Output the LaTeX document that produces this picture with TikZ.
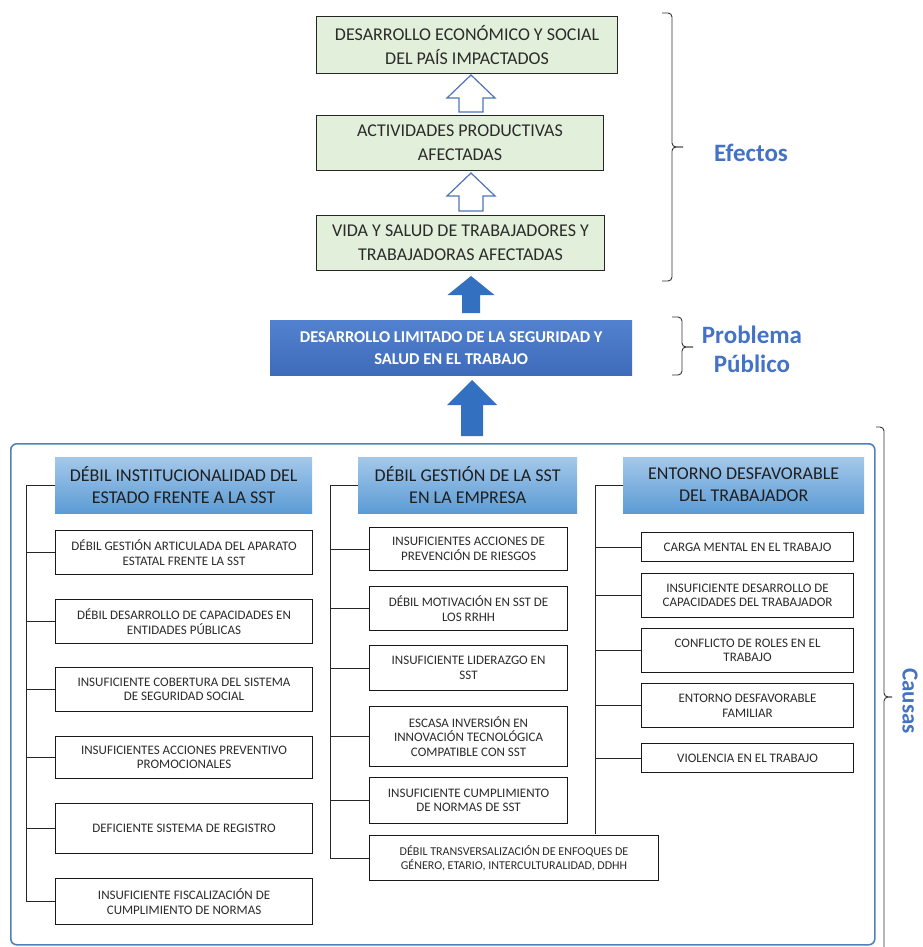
\documentclass[tikz,border=0pt]{standalone}
\usepackage{fontspec}
\setmainfont{Carlito}
\usetikzlibrary{calc}
\definecolor{greenfill}{HTML}{E2EFDA}
\definecolor{hdrtop}{HTML}{A4C8EA}
\definecolor{hdrbot}{HTML}{5B9BD5}
\definecolor{probtop}{HTML}{5282CF}
\definecolor{probbot}{HTML}{3E6BBA}
\definecolor{labelblue}{HTML}{4472C4}
\definecolor{framecol}{HTML}{4F81BD}
\definecolor{solidblue}{HTML}{3370BF}
\definecolor{hollowblue}{HTML}{4F74B5}
\definecolor{boxtext}{HTML}{2B2B2B}
\newcommand{\placebox}[7]{\node[#2, anchor=north west, minimum width={#5-#3}, minimum height={#6-#4}] (#1) at (#3,#4) {#7};}
\newcommand{\upblock}[7]{\draw[#1] (#2-#5,#3) -- (#2-#5,#4+#7) -- (#2-#6,#4+#7) -- (#2,#4) -- (#2+#6,#4+#7) -- (#2+#5,#4+#7) -- (#2+#5,#3) -- cycle;}
\begin{document}
\begin{tikzpicture}[x=1pt,y=-1pt,
  effbox/.style={draw=black!85, line width=1.1pt, fill=greenfill, align=center, inner sep=0pt,
    font=\fontsize{18}{24}\selectfont, text=boxtext},
  probbox/.style={top color=probtop, bottom color=probbot, draw=none, align=center, inner sep=0pt,
    font=\fontsize{16.5}{22}\selectfont\bfseries, text=white},
  hdr/.style={top color=hdrtop, bottom color=hdrbot, draw=none, align=center, inner sep=0pt,
    font=\fontsize{18}{22}\selectfont, text=black!88},
  cbox/.style={draw=black!90, line width=1.1pt, fill=white, align=center, inner sep=0pt,
    font=\fontsize{13}{14.5}\selectfont, text=boxtext},
  widebox/.style={cbox, font=\fontsize{12}{14.5}\selectfont},
  framebox/.style={draw=framecol, line width=1.6pt, rounded corners=6pt},
  lnk/.style={draw=black!85, line width=0.8pt},
  bracestyle/.style={draw=black!80, line width=0.9pt, rounded corners=4pt},
  lbl/.style={font=\fontsize{25}{29}\selectfont\bfseries, text=labelblue, align=center},
  hollow/.style={draw=hollowblue, line width=1.2pt, fill=white},
  solid/.style={draw=none, fill=solidblue}]
\useasboundingbox (0,0) rectangle (922,947);

% effects
\placebox{e1}{effbox}{316}{16}{617}{73}{DESARROLLO ECONÓMICO Y SOCIAL\\DEL PAÍS IMPACTADOS}
\placebox{e2}{effbox}{316}{115}{603}{170}{ACTIVIDADES PRODUCTIVAS\\AFECTADAS}
\placebox{e3}{effbox}{316}{215}{604}{270}{VIDA Y SALUD DE TRABAJADORES Y\\TRABAJADORAS AFECTADAS}
\upblock{hollow}{471}{112}{75}{12}{24}{23}
\upblock{hollow}{471}{211}{173}{12}{24}{23}

% problem
\placebox{pb}{probbox}{270}{320}{632}{375}{DESARROLLO LIMITADO DE LA SEGURIDAD Y\\SALUD EN EL TRABAJO}
\upblock{solid}{471}{313}{276}{9}{23.5}{19}
\upblock{solid}{472}{436}{380}{11}{25}{25}

% braces and labels
\draw[bracestyle] (662,13) -- (672,13) -- (672,147) -- (683,147);
\draw[bracestyle] (683,147) -- (672,147) -- (672,281) -- (662,281);
\node[lbl] (lefe) at (751,153) {Efectos};
\draw[bracestyle] (672,317) -- (682,317) -- (682,347) -- (693,347);
\draw[bracestyle] (693,347) -- (682,347) -- (682,375) -- (672,375);
\node[lbl] (lprob) at (752,349) {Problema\\Público};
\draw[bracestyle] (876,427) -- (884,427) -- (884,697) -- (892,697);
\draw[bracestyle] (892,697) -- (884,697) -- (884,990) -- (876,990);
\node[lbl, rotate=-90, font=\fontsize{23}{27}\selectfont\bfseries] (lcau) at (910,701) {Causas};

% frame
\placebox{fr}{framebox}{10}{443}{874}{944}{}

% column headers
\placebox{h1}{hdr}{55}{457}{312}{513}{DÉBIL INSTITUCIONALIDAD DEL\\ESTADO FRENTE A LA SST}
\placebox{h2}{hdr}{358}{457}{577}{513}{DÉBIL GESTIÓN DE LA SST\\EN LA EMPRESA}
\placebox{h3}{hdr}{623}{457}{864}{513}{ENTORNO DESFAVORABLE\\DEL TRABAJADOR}

% column 1
\placebox{a1}{cbox}{55}{530}{312}{574}{DÉBIL GESTIÓN ARTICULADA DEL APARATO\\ESTATAL FRENTE LA SST}
\placebox{a2}{cbox}{55}{599}{312}{643}{DÉBIL DESARROLLO DE CAPACIDADES EN\\ENTIDADES PÚBLICAS}
\placebox{a3}{cbox}{55}{667}{312}{711}{INSUFICIENTE COBERTURA DEL SISTEMA\\DE SEGURIDAD SOCIAL}
\placebox{a4}{cbox}{55}{736}{312}{778}{INSUFICIENTES ACCIONES PREVENTIVO\\PROMOCIONALES}
\placebox{a5}{cbox}{55}{803}{312}{853}{DEFICIENTE SISTEMA DE REGISTRO}
\placebox{a6}{cbox}{55}{878}{312}{924}{INSUFICIENTE FISCALIZACIÓN DE\\CUMPLIMIENTO DE NORMAS}

% column 2
\placebox{b1}{cbox}{369}{527}{567}{570}{INSUFICIENTES ACCIONES DE\\PREVENCIÓN DE RIESGOS}
\placebox{b2}{cbox}{369}{586}{567}{630}{DÉBIL MOTIVACIÓN EN SST DE\\LOS RRHH}
\placebox{b3}{cbox}{369}{645}{567}{690}{INSUFICIENTE LIDERAZGO EN\\SST}
\placebox{b4}{cbox}{369}{706}{567}{766}{ESCASA INVERSIÓN EN\\INNOVACIÓN TECNOLÓGICA\\COMPATIBLE CON SST}
\placebox{b5}{cbox}{369}{777}{567}{823}{INSUFICIENTE CUMPLIMIENTO\\DE NORMAS DE SST}
\placebox{b6}{widebox}{369}{835}{658}{880}{DÉBIL TRANSVERSALIZACIÓN DE ENFOQUES DE\\GÉNERO, ETARIO, INTERCULTURALIDAD, DDHH}

% column 3
\placebox{c1}{cbox}{641}{532}{853}{561}{CARGA MENTAL EN EL TRABAJO}
\placebox{c2}{cbox}{641}{573}{853}{617}{INSUFICIENTE DESARROLLO DE\\CAPACIDADES DEL TRABAJADOR}
\placebox{c3}{cbox}{641}{628}{853}{672}{CONFLICTO DE ROLES EN EL\\TRABAJO}
\placebox{c4}{cbox}{641}{683}{853}{727}{ENTORNO DESFAVORABLE\\FAMILIAR}
\placebox{c5}{cbox}{641}{743}{853}{772}{VIOLENCIA EN EL TRABAJO}

% trunks
\coordinate (t1) at (26,0);
\coordinate (t2) at (330,0);
\coordinate (t3) at (595,0);
\coordinate (t3end) at (595,834);
\draw[lnk] (h1.west) -- (h1.west -| t1) |- (a6.west);
\foreach \n in {a1,a2,a3,a4,a5} \draw[lnk] (\n.west) -- (\n.west -| t1);
\draw[lnk] (h2.west) -- (h2.west -| t2) |- (b6.west);
\foreach \n in {b1,b2,b3,b4,b5} \draw[lnk] (\n.west) -- (\n.west -| t2);
\draw[lnk] (h3.west) -- (h3.west -| t3) -- (t3end);
\foreach \n in {c1,c2,c3,c4,c5} \draw[lnk] (\n.west) -- (\n.west -| t3);
\end{tikzpicture}
\end{document}
